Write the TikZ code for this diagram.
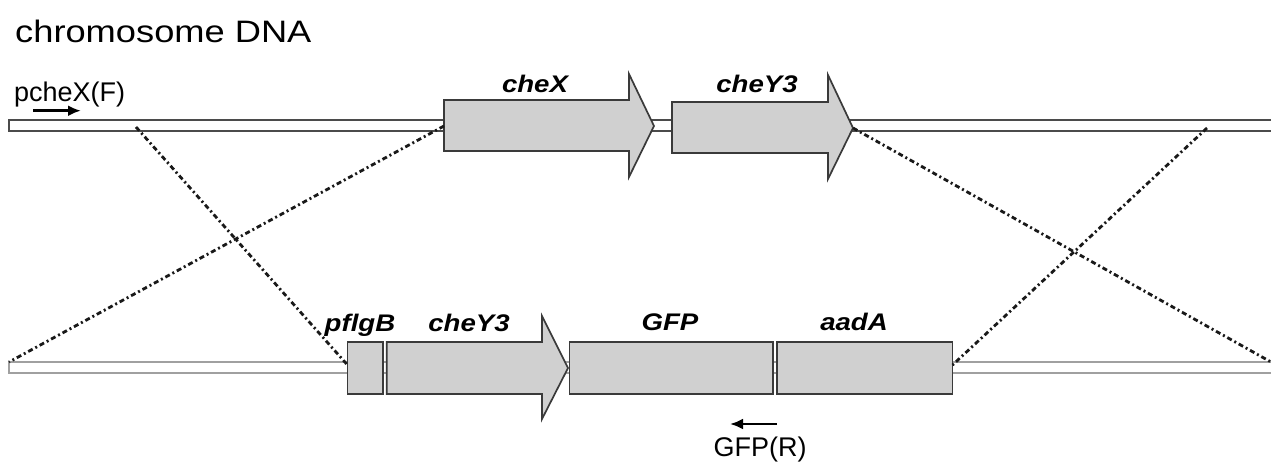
\documentclass[tikz,border=0pt]{standalone}
\usepackage{fontspec}
\setmainfont{Liberation Sans}
\newfontfamily\titlefont[FakeStretch=1.17]{Liberation Sans}
\newfontfamily\genefont[FakeStretch=1.15]{Liberation Sans}
\usetikzlibrary{arrows.meta}

\definecolor{genefill}{RGB}{208,208,208}
\definecolor{geneedge}{RGB}{58,58,58}
\definecolor{strandtop}{RGB}{75,75,75}
\definecolor{strandbot}{RGB}{160,160,160}

\begin{document}
\begin{tikzpicture}[x=1pt,y=-1pt,
  genebox/.style={fill=genefill,draw=geneedge,line width=1.7pt,line join=miter},
  chromstrand/.style={draw=strandtop,line width=2pt},
  plasmidstrand/.style={draw=strandbot,line width=2pt},
  crossover/.style={draw=black!90,line width=2.8pt,
    dash pattern=on 5pt off 3pt on 2pt off 3pt},
  genelabel/.style={inner sep=0pt,anchor=base,
    font=\genefont\bfseries\itshape\fontsize{24}{28}\selectfont},
  plainlabel/.style={inner sep=0pt,font=\fontsize{27}{32}\selectfont},
  primer/.style={draw=black,line width=2.8pt,-{Latex[length=13pt,width=11pt]}}]
\useasboundingbox (0,0) rectangle (1271,463);

% ---- chromosome strand (top) ----
\fill[white] (9,120) rectangle (1271,131);
\draw[chromstrand] (1272,120) -- (9,120) -- (9,131) -- (1272,131);

% ---- construct strand (bottom) ----
\fill[white] (9,361.5) rectangle (1271,372.5);
\draw[plasmidstrand] (1272,361.5) -- (9,361.5) -- (9,372.5) -- (1272,372.5);

% ---- chromosomal genes ----
\draw[genebox] (444,100) -- (629,100) -- (629,74) -- (654,126)
  -- (629,177) -- (629,151) -- (444,151) -- cycle;
\draw[genebox] (672,102) -- (828,102) -- (828,75) -- (853,128)
  -- (828,179) -- (828,153) -- (672,153) -- cycle;

% ---- construct: pflgB - cheY3 - GFP - aadA ----
\draw[genebox] (347.5,342) rectangle (382.8,394);
\draw[genebox] (386.8,342) -- (542,342) -- (542,316) -- (568,368)
  -- (542,419) -- (542,394) -- (386.8,394) -- cycle;
\draw[genebox] (569.5,342) rectangle (773,394);
\draw[genebox] (777,342) rectangle (952.5,394);

% ---- gene labels ----
\node[genelabel] (lcheX)   at (535,92)  {cheX};
\node[genelabel] (lcheYt)  at (757,92)  {cheY3};
\node[genelabel] (lpflgB)  at (360,331) {pflgB};
\node[genelabel] (lcheYb)  at (469,331) {cheY3};
\node[genelabel] (lGFP)    at (670,330) {GFP};
\node[genelabel] (laadA)   at (854,330) {aadA};

% ---- end points of the recombination lines ----
\coordinate (chromL)   at (136,127);
\coordinate (cheXstart) at (444,126);
\coordinate (cheYtip)  at (853,128);
\coordinate (chromR)   at (1207,128);
\coordinate (constL)   at (9,362);
\coordinate (pflgBstart) at (347.5,365);
\coordinate (aadAend)  at (952.5,365);
\coordinate (constR)   at (1271,362);

\draw[crossover] (chromL) -- (pflgBstart);
\draw[crossover] (cheXstart) -- (constL);
\draw[crossover] (cheYtip) -- (constR);
\draw[crossover] (chromR) -- (aadAend);

% ---- title and primers ----
\node[inner sep=0pt,anchor=base west,
  font=\titlefont\fontsize{31}{36}\selectfont] (title) at (15,42.3) {chromosome DNA};

\node[plainlabel,anchor=base west] (fwd) at (14,101.5) {pcheX(F)};
\coordinate (fwdS) at (33,110.7);
\coordinate (fwdE) at (81,110.7);
\draw[primer] (fwdS) -- (fwdE);

\coordinate (revS) at (777,424);
\coordinate (revE) at (730,424);
\draw[primer] (revS) -- (revE);
\node[plainlabel,anchor=base] (rev) at (760,456) {GFP(R)};
\end{tikzpicture}
\end{document}
